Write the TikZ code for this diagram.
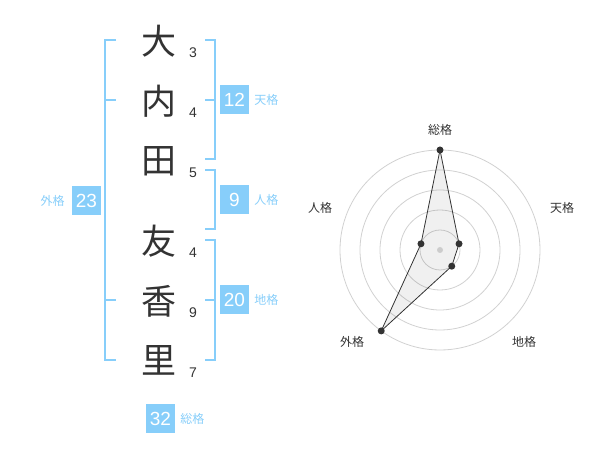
\documentclass[tikz,border=0pt]{standalone}
\usepackage{fontspec}
\setmainfont{Liberation Sans}
\newfontfamily\jp{Noto Sans CJK JP}
\usetikzlibrary{positioning}
\definecolor{kakublue}{HTML}{87CEFA}
\definecolor{ink}{HTML}{333333}
\begin{document}
\begin{tikzpicture}[x=1pt,y=1pt,
    kanji/.style={text=ink,font=\jp\fontsize{35}{35}\selectfont,inner sep=0pt},
    strokes/.style={text=ink,font=\fontsize{14}{14}\selectfont,inner sep=0pt},
    kbox/.style={fill=kakublue,text=white,minimum size=29pt,inner sep=0pt,font=\fontsize{19}{19}\selectfont},
    klabel/.style={text=kakublue,font=\jp\fontsize{12}{12}\selectfont,inner sep=0pt},
    bracket/.style={draw=kakublue,line width=2pt},
    ring/.style={draw=black!18,line width=0.8pt},
    dot/.style={circle,fill=ink,inner sep=0pt,minimum size=7pt},
    axislabel/.style={text=ink,font=\jp\fontsize{12}{12}\selectfont,inner sep=0pt}]
    \useasboundingbox (0,0) rectangle (600,470);

    % name
    \node[kanji] (c1) at (159,429) {大};
    \node[kanji] (c2) at (159,369) {内};
    \node[kanji] (c3) at (159,309) {田};
    \node[kanji] (c4) at (159,229) {友};
    \node[kanji] (c5) at (159,169) {香};
    \node[kanji] (c6) at (159,110) {里};
    \node[strokes] (n1) at (193,417) {3};
    \node[strokes] (n2) at (193,357) {4};
    \node[strokes] (n3) at (193,297) {5};
    \node[strokes] (n4) at (193,217) {4};
    \node[strokes] (n5) at (193,157) {9};
    \node[strokes] (n6) at (193,97)  {7};

    % brackets
    \draw[bracket] (116,430) -- (105,430) -- (105,110) -- (116,110);
    \draw[bracket] (105,370) -- (116,370);
    \draw[bracket] (105,170) -- (116,170);
    \draw[bracket] (205,430) -- (214.5,430) -- (214.5,310.5) -- (205,310.5);
    \draw[bracket] (205,370) -- (214.5,370);
    \draw[bracket] (205,300) -- (214.5,300) -- (214.5,240.5) -- (205,240.5);
    \draw[bracket] (205,230) -- (214.5,230) -- (214.5,110) -- (205,110);
    \draw[bracket] (205,170) -- (214.5,170);

    \node[kbox] (tenkaku) at (234.5,370) {12};
    \node[kbox] (jinkaku) at (234.5,270) {9};
    \node[kbox] (chikaku) at (234.5,170) {20};
    \node[kbox] (gaikaku) at (86.5,269)  {23};
    \node[kbox] (soukaku) at (160.5,51)  {32};
    \node[klabel,right=5pt of tenkaku] {天格};
    \node[klabel,right=5pt of jinkaku] {人格};
    \node[klabel,right=5pt of chikaku] {地格};
    \node[klabel,left=7pt of gaikaku]  {外格};
    \node[klabel,right=5pt of soukaku] {総格};

    % radar
    \begin{scope}[shift={(440,220)}]
        \foreach \r in {20,40,...,100}
            \draw[ring] (0,0) circle (\r);
        \coordinate (s) at (90:100);
        \coordinate (t) at (18:20);
        \coordinate (c) at (-54:20);
        \coordinate (g) at (234:100);
        \coordinate (j) at (162:20);
        \filldraw[fill=black,fill opacity=0.06,draw=ink,line width=0.8pt] (s) -- (t) -- (c) -- (g) -- (j) -- cycle;
        \node[circle,fill=black!20,inner sep=0pt,minimum size=6pt] (o) at (0,0) {};
        \foreach \p in {s,t,c,g,j}
            \node[dot] (d\p) at (\p) {};
        \node[axislabel] (ls) at (0,120)    {総格};
        \node[axislabel] (lt) at (122,42)   {天格};
        \node[axislabel] (lj) at (-120,42)  {人格};
        \node[axislabel] (lc) at (84,-92)   {地格};
        \node[axislabel] (lg) at (-88,-92)  {外格};
    \end{scope}
\end{tikzpicture}
\end{document}
